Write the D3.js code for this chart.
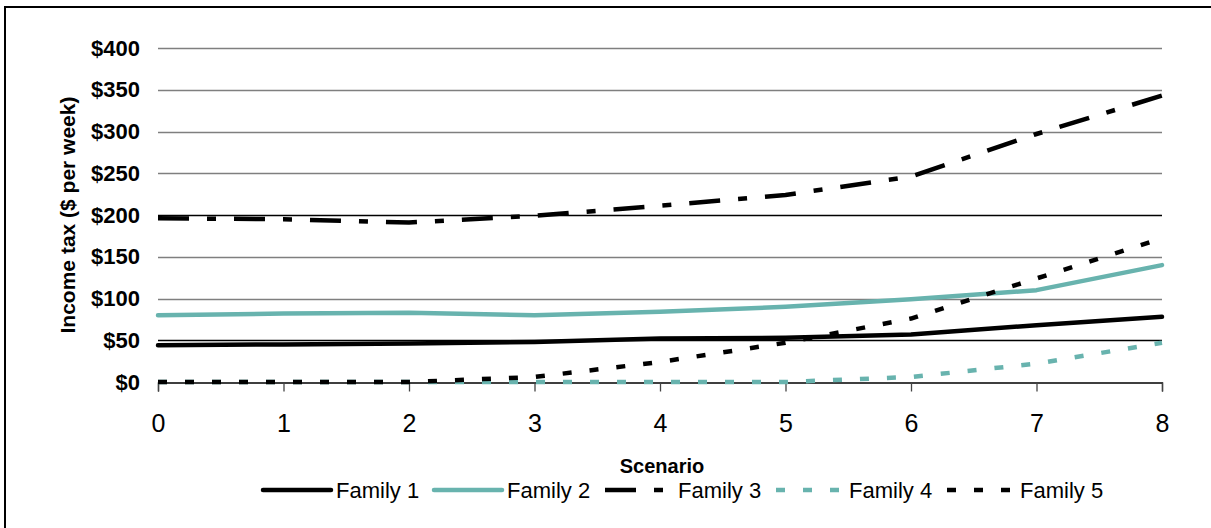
<!DOCTYPE html>
<html>
<head>
<meta charset="utf-8">
<script src="https://cdn.jsdelivr.net/npm/d3@7"></script>
<style>
  body { margin: 0; background: #fff; }
  svg { display: block; font-family: "Liberation Sans", Arial, sans-serif; }
</style>
</head>
<body>
<svg id="chart" width="1211" height="528"></svg>
<script>
const scenarios = [0, 1, 2, 3, 4, 5, 6, 7, 8];
const family1 = [44, 45, 46, 48, 52, 53, 57, 68, 78];
const family2 = [80, 82, 83, 80, 84, 90, 99, 110, 140];
const family3 = [196, 195, 191, 199, 211, 224, 246, 297, 343];
const family4 = [0, 0, 0, 0, 0, 0, 6, 22, 47];
const family5 = [0, 0, 0, 6, 24, 47, 76, 124, 172];
const seriesNames = ["Family 1", "Family 2", "Family 3", "Family 4", "Family 5"];
const yTicks = [0, 50, 100, 150, 200, 250, 300, 350, 400];
const xLabel = "Scenario";
const yLabel = "Income tax ($ per week)";

const teal = "#68b3ae";
const styles = [
  { color: "#000", dash: null, width: 4.5 },
  { color: teal, dash: null, width: 4.5 },
  { color: "#000", dash: "31,18,9,18", width: 4.5 },
  { color: teal, dash: "9,18", width: 4.5 },
  { color: "#000", dash: "9,18", width: 4.5 }
];
const seriesData = [family1, family2, family3, family4, family5];

const svg = d3.select("#chart");
const x = d3.scaleLinear().domain([0, 8]).range([158, 1162]);
const y = d3.scaleLinear().domain([0, 400]).range([382, 48]);

// frame
svg.append("rect").attr("x", 5).attr("y", 7).attr("width", 1300).attr("height", 600)
  .attr("fill", "none").attr("stroke", "#000").attr("stroke-width", 2);

// gridlines
svg.append("g").selectAll("line").data(yTicks.filter(d => d > 0)).join("line")
  .attr("x1", x(0)).attr("x2", x(8))
  .attr("y1", d => Math.round(y(d)) + 0.5).attr("y2", d => Math.round(y(d)) + 0.5)
  .attr("stroke", d => (d === 200 || d === 50) ? "#000" : "#7f7f7f")
  .attr("stroke-width", 1.3);

// y tick labels
svg.append("g").selectAll("text").data(yTicks).join("text")
  .attr("x", 140).attr("y", d => y(d)).attr("dy", "0.35em")
  .attr("text-anchor", "end").attr("font-weight", "bold").attr("font-size", 22)
  .text(d => "$" + d);

// x axis
const xAxis = d3.axisBottom(x).tickValues(scenarios).tickSize(9).tickPadding(23).tickFormat(d3.format("d"));
const gx = svg.append("g").attr("transform", `translate(0,${Math.round(y(0)) + 0.5})`).call(xAxis);
gx.select(".domain").attr("stroke", "#000").attr("stroke-width", 1.3);
gx.selectAll(".tick line").attr("stroke", "#444").attr("stroke-width", 1.3);
gx.selectAll(".tick text").attr("font-size", 25).attr("fill", "#000")
  .attr("font-family", "Liberation Sans, Arial, sans-serif");

// lines
const line = d3.line().x((d, i) => x(scenarios[i])).y(d => y(d));
seriesData.forEach((data, k) => {
  const s = styles[k];
  svg.append("path").datum(data)
    .attr("d", line).attr("fill", "none")
    .attr("stroke", s.color).attr("stroke-width", s.width)
    .attr("stroke-dasharray", s.dash)
    .attr("stroke-linecap", s.dash ? "butt" : "round")
    .attr("stroke-linejoin", "round");
});

// axis titles
svg.append("text").attr("x", 662).attr("y", 473).attr("text-anchor", "middle")
  .attr("font-weight", "bold").attr("font-size", 20).text(xLabel);
svg.append("text").attr("transform", "translate(75,215) rotate(-90)")
  .attr("text-anchor", "middle").attr("font-weight", "bold").attr("font-size", 21).text(yLabel);

// legend
const lg = svg.append("g").selectAll("g").data(seriesNames).join("g")
  .attr("transform", (d, i) => `translate(${263 + i * 171},490)`);
lg.append("line").attr("x1", 0).attr("x2", 68).attr("y1", 0).attr("y2", 0)
  .attr("stroke", (d, i) => styles[i].color).attr("stroke-width", 4.5)
  .attr("stroke-dasharray", (d, i) => styles[i].dash)
  .attr("stroke-linecap", (d, i) => styles[i].dash ? "butt" : "round");
lg.append("text").attr("x", 73).attr("y", 0).attr("dy", "0.35em")
  .attr("font-size", 22).text(d => d);
</script>
</body>
</html>
